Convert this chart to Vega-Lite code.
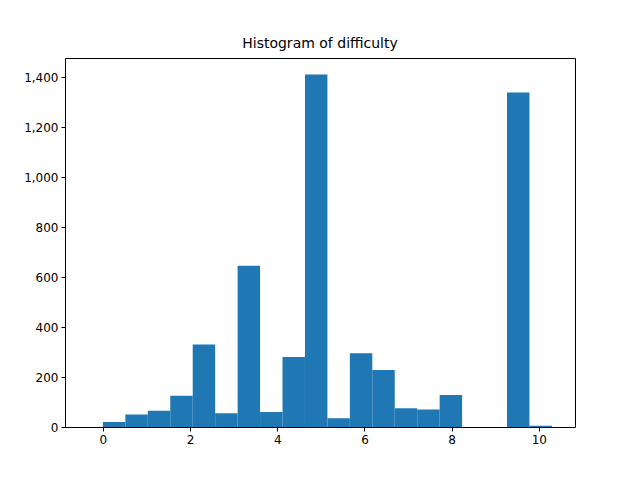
{
  "$schema": "https://vega.github.io/schema/vega-lite/v6.json",
  "width": 510,
  "height": 369,
  "autosize": "none",
  "padding": {"left": 65, "top": 58, "right": 65, "bottom": 53},
  "background": "white",
  "title": {"text": "Histogram of difficulty", "font": "DejaVu Sans", "fontSize": 14, "fontWeight": "normal", "offset": 7},
  "data": {
    "values": [
      {"b0": 0.0, "b1": 0.515, "count": 20},
      {"b0": 0.515, "b1": 1.03, "count": 50},
      {"b0": 1.03, "b1": 1.545, "count": 65},
      {"b0": 1.545, "b1": 2.06, "count": 125},
      {"b0": 2.06, "b1": 2.575, "count": 330},
      {"b0": 2.575, "b1": 3.09, "count": 55},
      {"b0": 3.09, "b1": 3.605, "count": 645},
      {"b0": 3.605, "b1": 4.12, "count": 60},
      {"b0": 4.12, "b1": 4.635, "count": 280},
      {"b0": 4.635, "b1": 5.15, "count": 1410},
      {"b0": 5.15, "b1": 5.665, "count": 35},
      {"b0": 5.665, "b1": 6.18, "count": 295},
      {"b0": 6.18, "b1": 6.695, "count": 228},
      {"b0": 6.695, "b1": 7.21, "count": 75},
      {"b0": 7.21, "b1": 7.725, "count": 70},
      {"b0": 7.725, "b1": 8.24, "count": 128},
      {"b0": 8.24, "b1": 8.755, "count": 0},
      {"b0": 8.755, "b1": 9.27, "count": 0},
      {"b0": 9.27, "b1": 9.785, "count": 1338},
      {"b0": 9.785, "b1": 10.3, "count": 5}
    ]
  },
  "mark": {"type": "rect", "color": "#1f77b4"},
  "encoding": {
    "x": {"field": "b0", "type": "quantitative", "scale": {"domain": [-0.87, 10.83], "nice": false, "zero": false}, "axis": {"values": [0, 2, 4, 6, 8, 10], "title": null}},
    "x2": {"field": "b1"},
    "y": {"field": "count", "type": "quantitative", "scale": {"domain": [0, 1476], "nice": false}, "axis": {"values": [0, 200, 400, 600, 800, 1000, 1200, 1400], "title": null}}
  },
  "config": {
    "view": {"stroke": "black", "strokeWidth": 1},
    "axis": {"grid": false, "domain": false, "tickColor": "black", "tickSize": 4, "labelFont": "DejaVu Sans", "labelFontSize": 12, "labelColor": "black", "labelPadding": 3}
  }
}
